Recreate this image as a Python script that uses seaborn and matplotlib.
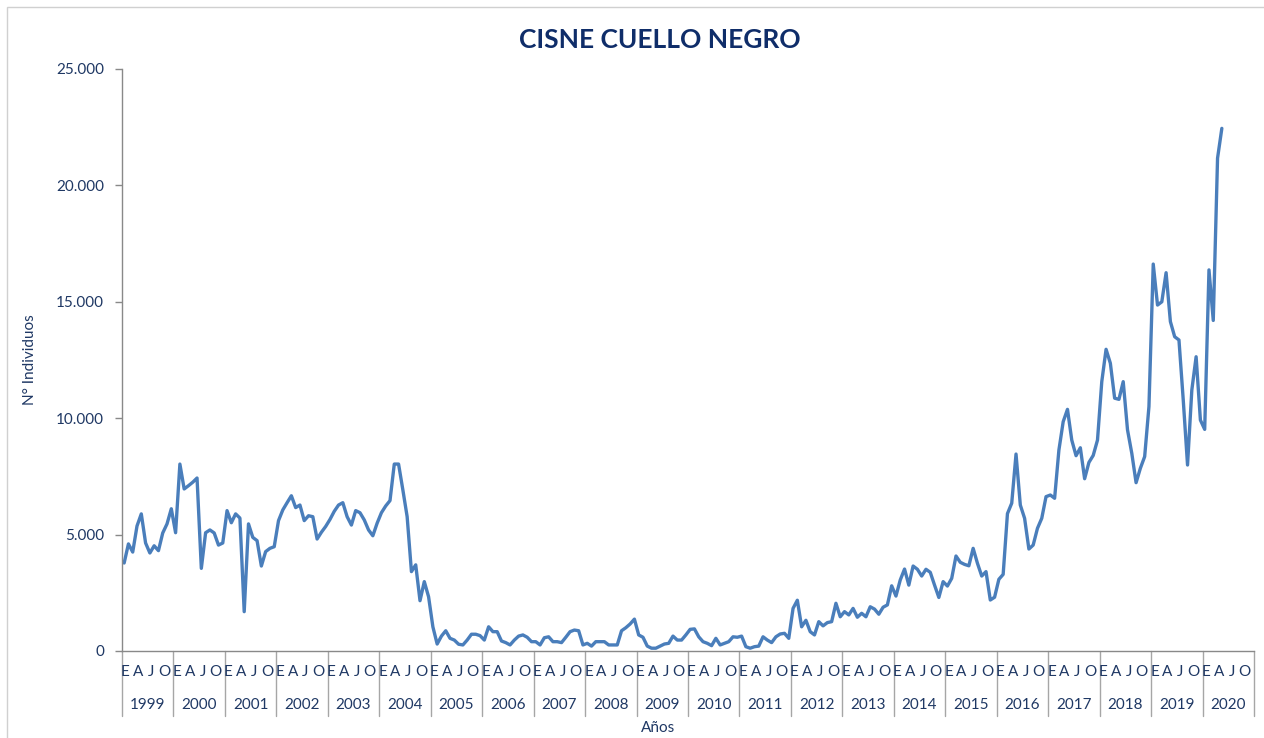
import matplotlib
matplotlib.use("Agg")
import matplotlib.pyplot as plt
import matplotlib.transforms as mtransforms
from matplotlib.patches import Rectangle
from matplotlib.ticker import FuncFormatter
import numpy as np
import pandas as pd
import seaborn as sns

# monthly counts, Jan..Dec (2020 only up to May)
years = list(range(1999, 2021))
month_letters = ["E", "A", "J", "O"]

y1999 = [3780, 4600, 4250, 5370, 5890, 4640, 4210, 4520, 4310, 5070, 5460, 6110]
y2000 = [5080, 8030, 6960, 7100, 7250, 7430, 3550, 5080, 5200, 5070, 4550, 4640]
y2001 = [6030, 5510, 5890, 5710, 1690, 5460, 4880, 4740, 3650, 4270, 4410, 4480]
y2002 = [5600, 6060, 6370, 6670, 6160, 6270, 5600, 5810, 5770, 4810, 5100, 5350]
y2003 = [5650, 6000, 6270, 6370, 5770, 5410, 6030, 5940, 5630, 5200, 4950, 5490]
y2004 = [5940, 6230, 6460, 8030, 8030, 6920, 5770, 3410, 3700, 2160, 2980, 2330]
y2005 = [1040, 300, 640, 870, 545, 470, 290, 260, 470, 720, 720, 660]
y2006 = [470, 1040, 830, 830, 430, 360, 260, 470, 640, 690, 590, 400]
y2007 = [400, 260, 570, 610, 400, 400, 360, 590, 830, 900, 870, 260]
y2008 = [330, 210, 400, 400, 400, 260, 260, 260, 870, 1000, 1160, 1370]
y2009 = [690, 590, 210, 120, 120, 210, 300, 330, 640, 470, 470, 690]
y2010 = [930, 950, 610, 400, 330, 230, 545, 260, 330, 400, 610, 590]
y2011 = [640, 185, 120, 185, 210, 610, 470, 360, 610, 730, 760, 545]
y2012 = [1830, 2180, 1040, 1320, 830, 690, 1260, 1080, 1220, 1260, 2050, 1470]
y2013 = [1690, 1550, 1830, 1450, 1620, 1470, 1900, 1800, 1580, 1880, 1980, 2800]
y2014 = [2360, 3050, 3520, 2830, 3650, 3510, 3220, 3510, 3380, 2830, 2300, 2980]
y2015 = [2790, 3120, 4080, 3810, 3720, 3660, 4410, 3770, 3220, 3410, 2190, 2310]
y2016 = [3080, 3290, 5900, 6350, 8460, 6270, 5700, 4380, 4550, 5270, 5700, 6630]
y2017 = [6700, 6560, 8630, 9850, 10380, 9060, 8390, 8730, 7400, 8100, 8400, 9060]
y2018 = [11570, 12960, 12360, 10860, 10810, 11570, 9500, 8490, 7230, 7850, 8350, 10500]
y2019 = [16620, 14860, 15000, 16250, 14150, 13500, 13360, 10780, 7990, 11210, 12640, 9920]
y2020 = [9520, 16370, 14200, 21170, 22450]

counts = (y1999 + y2000 + y2001 + y2002 + y2003 + y2004 + y2005 + y2006 + y2007
          + y2008 + y2009 + y2010 + y2011 + y2012 + y2013 + y2014 + y2015
          + y2016 + y2017 + y2018 + y2019 + y2020)
df = pd.DataFrame({"mes": np.arange(len(counts)) + 0.5, "n": counts})

navy = "#1F3864"
axis_grey = "#898989"

sns.set_style("white")
plt.rcParams["font.family"] = ["Lato", "DejaVu Sans"]

fig = plt.figure(figsize=(12.64, 7.38), dpi=100)
W, H = 1264, 738
ax = fig.add_axes([122 / W, 1 - 651 / H, (1254 - 122) / W, (651 - 69) / H])

sns.lineplot(data=df, x="mes", y="n", ax=ax, color="#4A7EBB", linewidth=2.4)

n_slots = 12 * len(years)
ax.set_xlim(0, n_slots)
ax.set_ylim(0, 25000)
ax.set_yticks(range(0, 25001, 5000))
ax.yaxis.set_major_formatter(FuncFormatter(lambda v, p: f"{int(v):,}".replace(",", ".")))
ax.tick_params(axis="y", colors=axis_grey, labelcolor=navy, labelsize=11,
               length=5, width=1, direction="out", pad=8, left=True)
ax.set_xticks([])
ax.set_xlabel("")
ax.set_ylabel("")

for side in ["top", "right"]:
    ax.spines[side].set_visible(False)
for side in ["left", "bottom"]:
    ax.spines[side].set_color(axis_grey)
    ax.spines[side].set_linewidth(1)

# two-level category axis: month letters and years
trans = mtransforms.blended_transform_factory(ax.transData, ax.transAxes)
sep_bottom = -(716 - 651) / (651 - 69)
for k, yr in enumerate(years):
    start = 12 * k
    ax.plot([start, start], [0, sep_bottom], color="#A6A6A6", lw=1,
            transform=trans, clip_on=False)
    for j, letter in enumerate(month_letters):
        ax.text(start + 3 * j + 0.8, -(672 - 651) / (651 - 69), letter,
                transform=trans, ha="center", va="center", fontsize=11, color=navy)
    ax.text(start + 6, -(705 - 651) / (651 - 69), str(yr), transform=trans,
            ha="center", va="center", fontsize=11, color=navy)
ax.plot([n_slots, n_slots], [0, sep_bottom], color="#A6A6A6", lw=1,
        transform=trans, clip_on=False)

fig.text(658 / W, 1 - 728 / H, "Años", ha="center", va="center", fontsize=11, color=navy)
fig.text(30 / W, 1 - 360 / H, "N° Individuos", ha="center", va="center",
         rotation=90, fontsize=11, color=navy)
fig.text(660 / W, 1 - 40 / H, "CISNE CUELLO NEGRO", ha="center", va="center",
         fontsize=19, fontweight="bold", color="#0F2D69")

fig.patches.append(Rectangle((7 / W, -0.1), 1.2, 1 - 7 / H + 0.1, transform=fig.transFigure,
                             fill=False, edgecolor="#D0D0D0", lw=1))

fig.savefig("out.png", dpi=100)
